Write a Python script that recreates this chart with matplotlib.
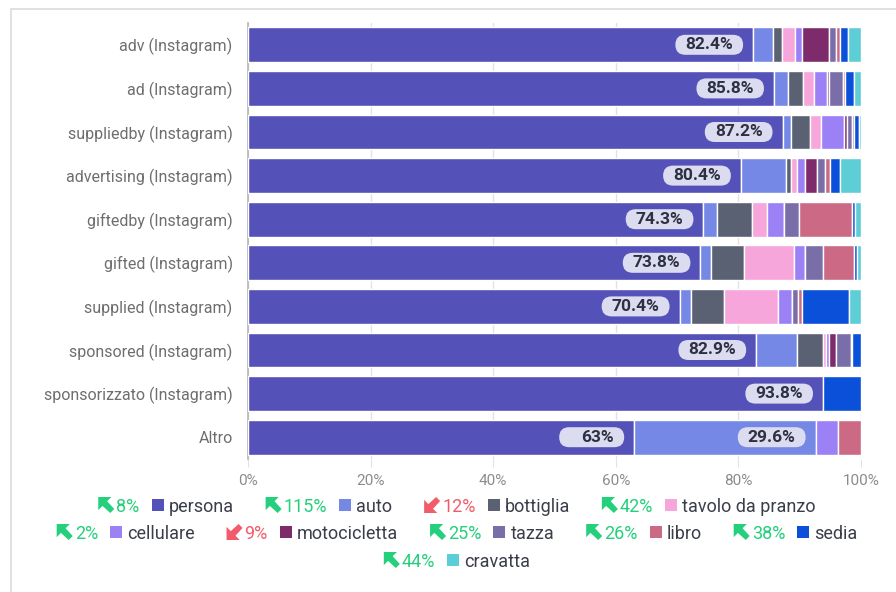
import numpy as np
import matplotlib
matplotlib.use("Agg")
import matplotlib.pyplot as plt
from matplotlib.patches import Polygon, Rectangle, FancyBboxPatch
from matplotlib.transforms import IdentityTransform

plt.rcParams["font.family"] = ["Roboto", "DejaVu Sans"]

rows = [
    "adv (Instagram)", "ad (Instagram)", "suppliedby (Instagram)",
    "advertising (Instagram)", "giftedby (Instagram)", "gifted (Instagram)",
    "supplied (Instagram)", "sponsored (Instagram)",
    "sponsorizzato (Instagram)", "Altro",
]

classes = ["persona", "auto", "bottiglia", "tavolo da pranzo", "cellulare",
           "motocicletta", "tazza", "libro", "sedia", "cravatta"]
colors = ["#5452B8", "#7588E6", "#5A6172", "#F7A6DC", "#9B80F6",
          "#7E2B6B", "#7A6EA8", "#CC6A86", "#0B50D8", "#5DCED6"]

# share (%) of each class per row, same order as rows
persona = [82.4, 85.8, 87.2, 80.4, 74.3, 73.8, 70.4, 82.9, 93.8, 63.0]
auto = [3.2, 2.3, 1.3, 7.4, 2.2, 1.7, 1.8, 6.6, 0.0, 29.6]
bottiglia = [1.5, 2.4, 3.2, 0.8, 5.8, 5.4, 5.4, 4.3, 0.0, 0.0]
tavolo = [2.1, 1.8, 1.7, 0.9, 2.4, 8.1, 8.8, 0.5, 0.0, 0.0]
cellulare = [1.2, 2.1, 3.8, 1.3, 2.7, 1.8, 2.3, 0.4, 0.0, 3.6]
motocicletta = [4.4, 0.3, 0.5, 2.0, 0.1, 0.1, 0.1, 1.2, 0.0, 0.0]
tazza = [1.2, 2.4, 0.8, 1.3, 2.4, 2.9, 1.0, 2.4, 0.0, 0.0]
libro = [0.5, 0.3, 0.4, 0.9, 8.6, 5.1, 0.5, 0.2, 0.0, 3.8]
sedia = [1.3, 1.5, 0.8, 1.6, 0.5, 0.5, 7.7, 1.5, 6.2, 0.0]
cravatta = [2.2, 1.1, 0.3, 3.4, 1.0, 0.6, 2.0, 0.0, 0.0, 0.0]
series = [persona, auto, bottiglia, tavolo, cellulare, motocicletta,
          tazza, libro, sedia, cravatta]

# trend shown in the legend
trend = ["8%", "115%", "12%", "42%", "2%", "9%", "25%", "26%", "38%", "44%"]
trend_up = [True, True, False, True, True, False, True, True, True, True]
legend_rows = [[0, 1, 2, 3], [4, 5, 6, 7, 8], [9]]

W, H = 896, 592
fig = plt.figure(figsize=(W / 100, H / 100), dpi=100)
fig.patch.set_facecolor("white")
px = IdentityTransform()  # display pixels, y up

# card frame (left and top edges only visible)
fig.add_artist(Rectangle((11, -50), 2000, H - 9 + 50, transform=px,
                         fill=False, edgecolor="#DCDCDC", linewidth=1.2))

ax = fig.add_axes([248 / W, 1 - 459 / H, 613 / W, 436 / H])

y = np.arange(len(rows))
left = np.zeros(len(rows))
labels = []
for name, vals, col in zip(classes, series, colors):
    vals = np.array(vals)
    m = vals > 0
    ax.barh(y[m], vals[m], left=left[m], height=0.8, color=col,
            edgecolor="white", linewidth=1, zorder=3)
    for yi, v, l in zip(y, vals, left):
        if v > 20:
            labels.append((l + v, yi, f"{v:g}%"))
    left += vals

ax.set_xlim(0, 100)
ax.set_ylim(len(rows) - 0.5, -0.5)
ax.set_yticks(y)
ax.set_yticklabels(rows)
ax.set_xticks(np.arange(0, 101, 20))
ax.set_xticklabels([f"{t}%" for t in range(0, 101, 20)])
ax.grid(axis="x", color="#E2E2E2", linewidth=1, zorder=0)
ax.tick_params(axis="y", length=0, pad=11, labelsize=11.5, labelcolor="#6E6E6E")
ax.tick_params(axis="x", length=6, color="#E2E2E2", pad=5, labelsize=11,
               labelcolor="#8C8C8C")
for s in ["top", "right", "bottom"]:
    ax.spines[s].set_visible(False)
ax.spines["left"].set_color("#B5B5B5")
ax.spines["left"].set_linewidth(1.2)

renderer = fig.canvas.get_renderer()

# value labels on rounded pills
for xv, yv, txt in labels:
    xe, yc = ax.transData.transform((xv, yv))
    t = fig.text(xe - 20, yc, txt, transform=px, ha="right", va="center",
                 fontsize=12.5, fontweight="bold", color="#2D3040", zorder=7)
    bb = t.get_window_extent(renderer)
    x1 = xe - 10
    x0 = min(bb.x0 - 10, x1 - 65)
    hh = 20
    fig.add_artist(FancyBboxPatch((x0, yc - hh / 2), x1 - x0, hh,
                                  boxstyle="round,pad=0,rounding_size=10",
                                  transform=px, fc="#DCDCF0", ec="none", zorder=5))

# custom legend with trend arrows
green, red = "#25D07C", "#F25C6A"


def arrow(x0, yc, up, col, s=16):
    # thick diagonal arrow, pixel coords measured from the top
    if up:
        head = [(0, 0), (0.82, 0), (0, 0.82)]
        shaft = [(0.15, 0.45), (0.45, 0.15), (1.0, 0.75), (0.75, 1.0)]
    else:
        head = [(0, 1), (0.82, 1), (0, 0.18)]
        shaft = [(0.15, 0.55), (0.45, 0.85), (1.0, 0.25), (0.75, 0.0)]
    for pts in (head, shaft):
        xy = [(x0 + a * s, H - (yc - s / 2 + b * s)) for a, b in pts]
        fig.add_artist(Polygon(xy, closed=True, transform=px, fc=col, ec="none"))


def text_w(t, **kw):
    tt = fig.text(0, 0, t, **kw)
    w = tt.get_window_extent(renderer).width
    tt.remove()
    return w


row_y = [505, 532, 560]
cx = 457
fs = 13
for ry, items in zip(row_y, legend_rows):
    widths = []
    for i in items:
        wp = text_w(trend[i], fontsize=fs)
        wl = text_w(classes[i], fontsize=fs)
        widths.append((wp, wl))
    total = sum(16 + 2 + wp + 12 + 12 + 5 + wl for wp, wl in widths)
    total += 32 * (len(items) - 1)
    x = cx - total / 2
    for i, (wp, wl) in zip(items, widths):
        col = green if trend_up[i] else red
        arrow(x, ry, trend_up[i], col)
        x += 18
        fig.text(x, H - ry, trend[i], transform=px, fontsize=fs, color=col,
                 va="center_baseline", ha="left")
        x += wp + 12
        fig.add_artist(Rectangle((x, H - ry - 6), 12, 12, transform=px,
                                 fc=colors[i], ec="none"))
        x += 17
        fig.text(x, H - ry, classes[i], transform=px, fontsize=fs, color="#3A3D4A",
                 va="center_baseline", ha="left")
        x += wl + 32

fig.savefig("out.png", dpi=100, facecolor="white")
